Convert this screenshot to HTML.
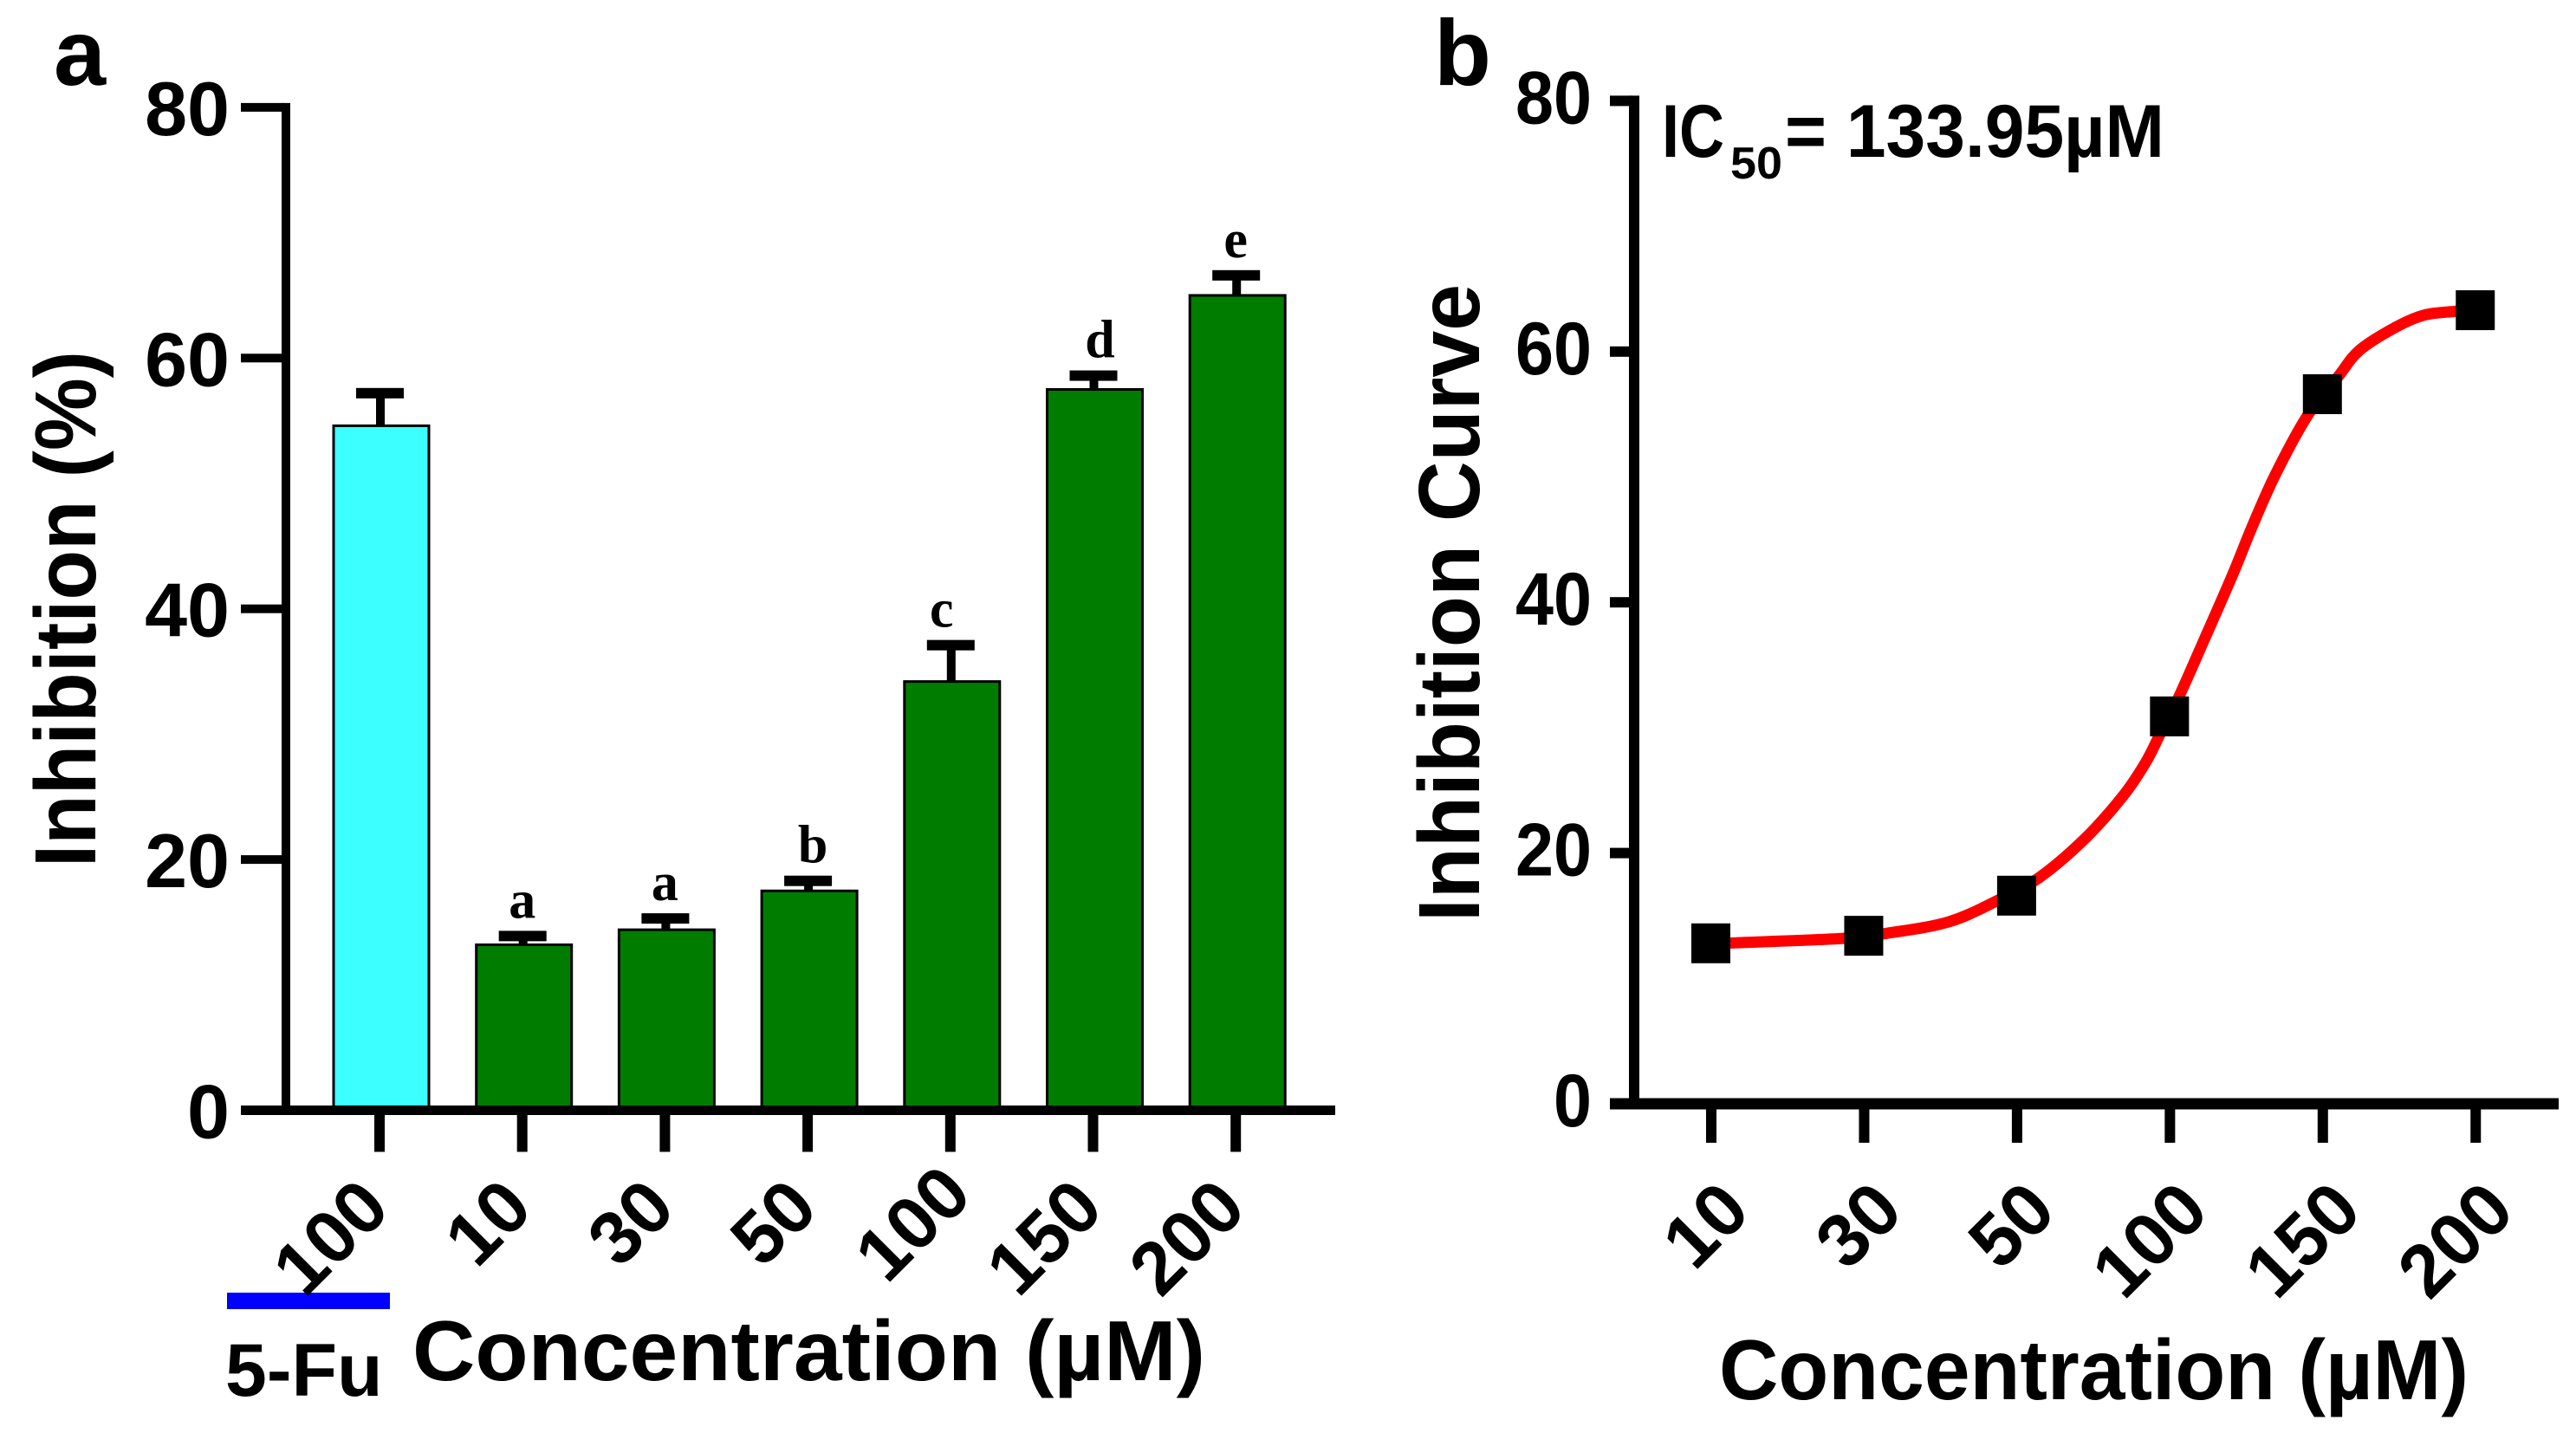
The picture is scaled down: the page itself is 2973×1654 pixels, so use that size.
<!DOCTYPE html>
<html lang="en">
<head>
<meta charset="utf-8">
<title>Inhibition chart</title>
<style>
html,body{margin:0;padding:0;background:#fff;width:2973px;height:1654px;overflow:hidden}
svg{display:block}
text{font-family:"Liberation Sans",sans-serif;font-weight:700;fill:#000}
</style>
</head>
<body>
<svg id="figure" xmlns="http://www.w3.org/2000/svg" width="2973" height="1654" viewBox="0 0 2973 1654">
  <rect x="0" y="0" width="2973" height="1654" fill="#fff"/>
  <text x="62" y="98" font-size="108">a</text>
  <text x="1655" y="98" font-size="108">b</text>
  <text transform="translate(110,1001) rotate(-90)" font-size="100" textLength="596" lengthAdjust="spacingAndGlyphs">Inhibition (%)</text>
  <text x="476" y="1593" font-size="98" textLength="915" lengthAdjust="spacingAndGlyphs">Concentration (µM)</text>
  <rect x="262" y="1492" width="188" height="19" fill="#0000ff"/>
  <text x="260" y="1611" font-size="86">5-Fu</text>
  <text transform="translate(1707,1064) rotate(-90)" font-size="100" textLength="736" lengthAdjust="spacingAndGlyphs">Inhibition Curve</text>
  <text x="1984" y="1615" font-size="98" textLength="865" lengthAdjust="spacingAndGlyphs">Concentration (µM)</text>
  <text x="1918" y="181" font-size="86" textLength="72" lengthAdjust="spacingAndGlyphs">IC</text>
  <text x="1997" y="206" font-size="52" textLength="60" lengthAdjust="spacingAndGlyphs">50</text>
  <text x="2060" y="181" font-size="86" textLength="438" lengthAdjust="spacingAndGlyphs">= 133.95µM</text>
  <g id="panel-a"></g>
  <g id="panel-b"></g>
</svg>
<script>
// Panel a data
const barCategories = ['100', '10', '30', '50', '100', '150', '200'];
const barValues = [54.6, 13.2, 14.4, 17.5, 34.2, 57.5, 65.0];
const barErrorTops = [57.2, 13.9, 15.3, 18.3, 37.1, 58.6, 66.6];
const barLetters = ['', 'a', 'a', 'b', 'c', 'd', 'e'];
const barColors = ['#3cffff', '#007d00', '#007d00', '#007d00', '#007d00', '#007d00', '#007d00'];
const yTicksA = [0, 20, 40, 60, 80];

// Panel b data
const curveCategories = ['10', '30', '50', '100', '150', '200'];
const pointValues = [12.8, 13.4, 16.6, 30.9, 56.6, 63.3];
const yTicksB = [0, 20, 40, 60, 80];
const curveIndex = [0, 0.12, 0.85, 1.15, 1.55, 1.87, 2.14, 2.44, 2.69, 2.84, 2.94, 3.06, 3.22, 3.41, 3.54, 3.69, 3.9, 4.1, 4.24, 4.47, 4.66, 4.86, 5];
const curveValues = [12.7, 12.82, 13.18, 13.6, 14.5, 16.2, 18.0, 21.1, 24.5, 27.2, 29.6, 32.5, 36.9, 42.2, 46.1, 50.2, 54.9, 58.0, 60.1, 61.9, 62.9, 63.2, 63.3];

const NS = 'http://www.w3.org/2000/svg';
function make(parent, tag, attrs, content) {
  const el = document.createElementNS(NS, tag);
  for (const k in attrs) el.setAttribute(k, attrs[k]);
  if (content !== undefined) el.textContent = content;
  parent.appendChild(el);
  return el;
}

const xA = i => 438 + i * 164.7;
const yA = v => 1281.5 - v * 14.47;
const xB = i => 1975 + i * 176.45;
const yB = v => 1274 - v * 14.47;
function letterNudge(letter) {
  if (letter === 'b') return 6;
  if (letter === 'c') return -10;
  if (letter === 'd') return 8;
  return 0;
}

const a = document.getElementById('panel-a');
const b = document.getElementById('panel-b');

// Panel a: bars
barValues.forEach((v, i) => {
  const cx = xA(i) + 2;
  const bar = make(a, 'rect', {x: cx - 55, y: yA(v), width: 110, height: yA(0) - yA(v), fill: barColors[i], stroke: '#000', 'stroke-width': 3});
  
  
  const stem = make(a, 'rect', {x: xA(i) - 4, y: yA(barErrorTops[i]), width: 10, height: yA(v) - yA(barErrorTops[i]), fill: '#000'});
  
  
  const cap = make(a, 'rect', {x: xA(i) - 27, y: yA(barErrorTops[i]) - 6, width: 55, height: 12, fill: '#000'});
  
  
  if (barLetters[i]) {
    const letter = make(a, 'text', {x: xA(i) + letterNudge(barLetters[i]), y: yA(barErrorTops[i]) - 21, 'font-size': 62, 'text-anchor': 'middle', style: 'font-family:"Liberation Serif",serif'}, barLetters[i]);
    
    
  }
  const tick = make(a, 'rect', {x: xA(i) - 6, y: yA(0), width: 12, height: 48, fill: '#000'});
  
  
  const lx = xA(i) + 15 + (i === 4 ? 13 : 0);
  const ly = 1398 - (i === 4 ? 16 : 0);
  const label = make(a, 'text', {transform: 'translate(' + lx + ',' + ly + ') rotate(-45)', 'font-size': 86, 'text-anchor': 'end'}, barCategories[i]);
  
  
});

// Panel a: axes
const axisYA = make(a, 'rect', {x: 325, y: yA(80) - 5, width: 10, height: yA(0) - yA(80) + 10, fill: '#000'});


const axisXA = make(a, 'rect', {x: 278, y: yA(0) - 5.5, width: 1263, height: 11, fill: '#000'});


yTicksA.forEach(v => {
  const t = make(a, 'rect', {x: 278, y: yA(v) - 5, width: 50, height: 10, fill: '#000'});
  
  
  const l = make(a, 'text', {x: 265, y: yA(v) + 32, 'font-size': 88, 'text-anchor': 'end'}, String(v));
  
  
});

// Panel b: curve
const pts = curveIndex.map((p, i) => [xB(p), yB(curveValues[i])]);
let d = 'M' + pts[0][0] + ' ' + pts[0][1];
for (let i = 0; i < pts.length - 1; i++) {
  const p0 = pts[Math.max(i - 1, 0)], p1 = pts[i], p2 = pts[i + 1], p3 = pts[Math.min(i + 2, pts.length - 1)];
  d += ' C' + (p1[0] + (p2[0] - p0[0]) / 6) + ' ' + (p1[1] + (p2[1] - p0[1]) / 6) + ' ' +
       (p2[0] - (p3[0] - p1[0]) / 6) + ' ' + (p2[1] - (p3[1] - p1[1]) / 6) + ' ' + p2[0] + ' ' + p2[1];
}
const curve = make(b, 'path', {d: d, fill: 'none', stroke: '#ff0000', 'stroke-width': 13, 'stroke-linejoin': 'round'});



// Panel b: ticks, labels and markers
curveCategories.forEach((c, i) => {
  const t = make(b, 'rect', {x: xB(i) - 6, y: yB(0), width: 12, height: 45, fill: '#000'});
  
  
  const l = make(b, 'text', {transform: 'translate(' + (xB(i) + 48) + ',1401) rotate(-45)', 'font-size': 86, 'text-anchor': 'end'}, c);
  
  
  const m = make(b, 'rect', {x: xB(i) - 23, y: yB(pointValues[i]) - 23, width: 45, height: 46, fill: '#000'});
  
  
});

// Panel b: axes
const axisYB = make(b, 'rect', {x: 1880, y: yB(80) - 6, width: 12, height: yB(0) - yB(80) + 12, fill: '#000'});


const axisXB = make(b, 'rect', {x: 1858, y: yB(0) - 6.5, width: 1095, height: 13, fill: '#000'});


yTicksB.forEach(v => {
  const t = make(b, 'rect', {x: 1858, y: yB(v) - 6, width: 26, height: 12, fill: '#000'});
  
  
  const l = make(b, 'text', {x: 1837, y: yB(v) + 26, 'font-size': 86, 'text-anchor': 'end', textLength: String(v).length * 44, lengthAdjust: 'spacingAndGlyphs'}, String(v));
  
  
});
</script>
</body>
</html>
